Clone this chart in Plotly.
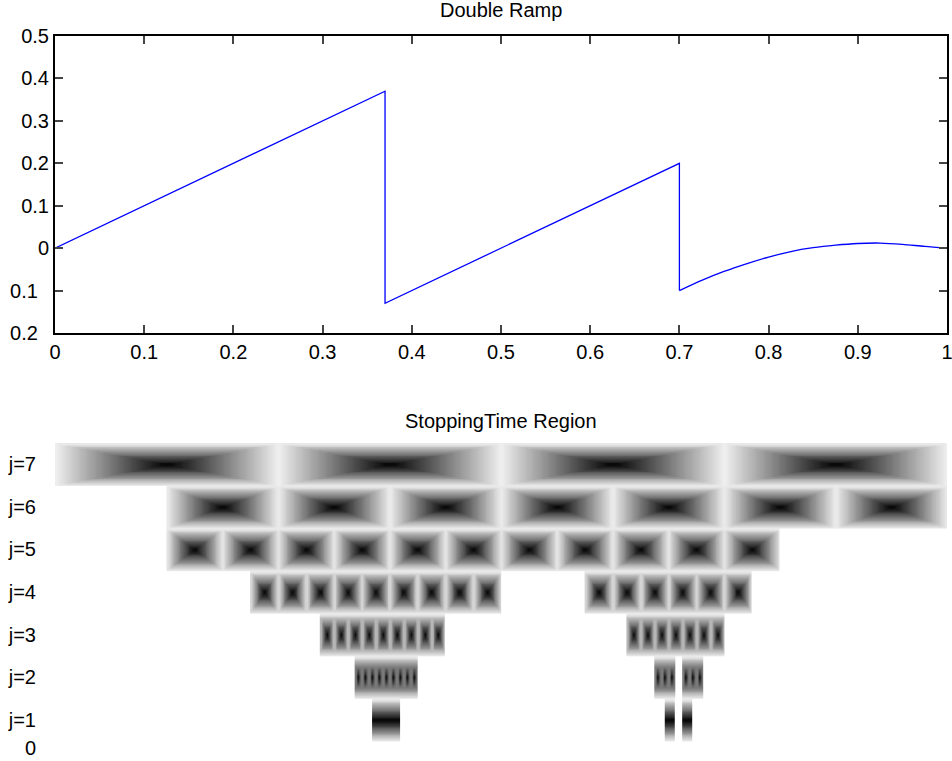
import numpy as np
import plotly.graph_objects as go

# ---------------- data ----------------
# Top panel: Double Ramp signal
t_vals = [0.0, 0.37, 0.37, 0.70, 0.70, 0.725, 0.75, 0.775, 0.80, 0.825,
          0.85, 0.875, 0.90, 0.925, 0.95, 0.975, 1.0]
ramp_vals = [0.0, 0.37, -0.13, 0.20, -0.10, -0.076, -0.055, -0.037, -0.021,
             -0.008, 0.001, 0.007, 0.011, 0.012, 0.009, 0.004, 0.0]

x_tick_vals = [0, 0.1, 0.2, 0.3, 0.4, 0.5, 0.6, 0.7, 0.8, 0.9, 1]
x_tick_text = ["0", "0.1", "0.2", "0.3", "0.4", "0.5", "0.6", "0.7", "0.8", "0.9", "1"]
y_tick_vals = [-0.2, -0.1, 0, 0.1, 0.2, 0.3, 0.4, 0.5]
y_tick_text = ["0.2", "0.1", "0", "0.1", "0.2", "0.3", "0.4", "0.5"]

# Bottom panel: stopping-time region tiling (tile index ranges per level j;
# a tile at level j has width 2**j / 512)
levels = [1, 2, 3, 4, 5, 6, 7]
level_labels = ["j=1", "j=2", "j=3", "j=4", "j=5", "j=6", "j=7"]
tile_ranges = {
    7: [(0, 3)],
    6: [(1, 7)],
    5: [(2, 12)],
    4: [(7, 15), (19, 24)],
    3: [(19, 27), (41, 47)],
    2: [(43, 51), (86, 88), (90, 92)],
    1: [(91, 98), (175, 177), (180, 182)],
}
bottom_tick_vals = [0.336] + levels
bottom_tick_text = ["0"] + level_labels

# ---------------- figure ----------------
W, H = 952, 761
font = dict(family="Liberation Sans, Arial, Helvetica, sans-serif", size=20, color="black")

fig = go.Figure()
# straight ramps
fig.add_trace(go.Scatter(x=t_vals[:5], y=ramp_vals[:5], mode="lines",
                         line=dict(color="#0000ff", width=1.3),
                         xaxis="x", yaxis="y", hoverinfo="skip", showlegend=False))
# smooth tail
fig.add_trace(go.Scatter(x=t_vals[4:], y=ramp_vals[4:], mode="lines",
                         line=dict(color="#0000ff", width=1.3, shape="spline", smoothing=0.8),
                         xaxis="x", yaxis="y", hoverinfo="skip", showlegend=False))

# tiles: one shaded image per contiguous run of tiles
M = 24  # image rows per level
v = np.abs(np.arange(M) + 0.5 - M / 2) / (M / 2)
for j in levels:
    w = 2.0 ** j / 512           # tile width in x units
    L = 2 ** j - 1               # image columns per tile
    u = np.abs(np.arange(L) + 0.5 - L / 2) / (L / 2 + 0.5)
    tile = np.maximum(u[None, :], v[:, None])
    yc = j - 0.5 + (np.arange(M) + 0.5) / M
    for a, b in tile_ranges[j]:
        n = b - a + 1
        zc = np.tile(tile, (1, n))
        xc = a * w + (np.arange(n * L) + 0.5) * (w / L)
        fig.add_trace(go.Heatmap(x=xc, y=yc, z=zc, zmin=0, zmax=1,
                                 colorscale=[[0, "#000000"], [1, "#f2f2f2"]],
                                 zsmooth="best", showscale=False, hoverinfo="skip",
                                 xaxis="x2", yaxis="y2"))

ytext = [t + "\u00a0\u00a0" if val < 0 else t for val, t in zip(y_tick_vals, y_tick_text)]


def dom(top_px, bot_px):
    return [1 - bot_px / H, 1 - top_px / H]


fig.update_layout(
    width=W, height=H, template="none",
    paper_bgcolor="white", plot_bgcolor="white",
    margin=dict(l=55, r=5, t=0, b=0),
    font=font, showlegend=False,
    xaxis=dict(domain=[0, 1], range=[0, 1], tickvals=x_tick_vals, ticktext=x_tick_text,
               ticks="inside", ticklen=8, tickwidth=1.5, tickcolor="#444",
               showline=True, linewidth=2, linecolor="black", mirror="ticks",
               showgrid=False, zeroline=False, anchor="y", automargin=False,
               ticklabeloverflow="allow", tickfont=font),
    yaxis=dict(domain=dom(36, 333), range=[-0.2, 0.5], tickvals=y_tick_vals, ticktext=ytext,
               ticks="inside", ticklen=8, tickwidth=1.5, tickcolor="#444",
               showline=True, linewidth=2, linecolor="black", mirror="ticks",
               showgrid=False, zeroline=False, anchor="x", automargin=False,
               tickfont=font),
    xaxis2=dict(domain=[0, 1], range=[0, 1], visible=False, anchor="y2"),
    yaxis2=dict(domain=dom(443, 748), range=[0.336, 7.5], tickvals=bottom_tick_vals,
                ticktext=bottom_tick_text, ticks="", showline=False, showgrid=False,
                zeroline=False, anchor="x2", automargin=False, ticklabelstandoff=18,
                tickfont=font),
    annotations=[
        dict(text="Double Ramp", x=0.5, y=1 - 10 / H, xref="paper", yref="paper",
             xanchor="center", yanchor="middle", showarrow=False, font=font),
        dict(text="StoppingTime Region", x=0.5, y=1 - 421 / H, xref="paper", yref="paper",
             xanchor="center", yanchor="middle", showarrow=False, font=font),
    ],
)

fig.write_html("out.html", config={"displayModeBar": False},
               post_script="document.body.style.margin='0';document.body.style.overflow='hidden';")
